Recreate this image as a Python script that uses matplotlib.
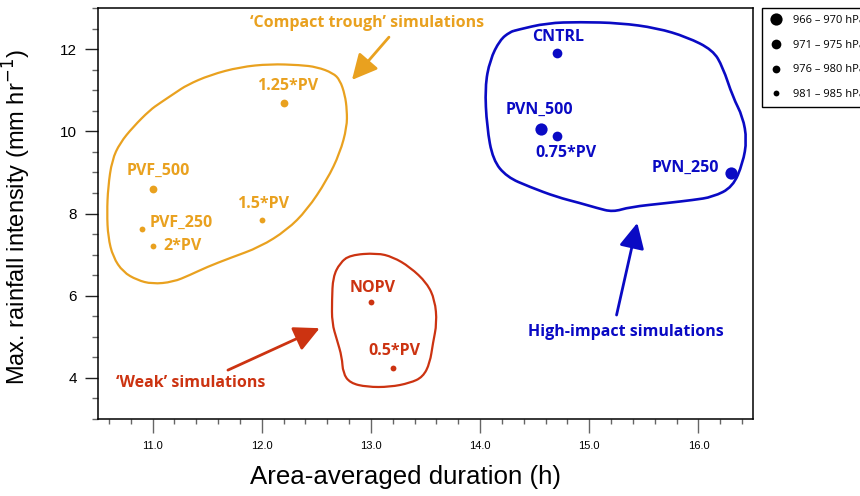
import matplotlib
matplotlib.use('Agg')
import matplotlib.pyplot as plt
from matplotlib.path import Path
from matplotlib.patches import PathPatch
from matplotlib.lines import Line2D
from matplotlib.ticker import MultipleLocator

# simulations
names = ['1.25*PV', 'PVF_500', '1.5*PV', 'PVF_250', '2*PV',
         'NOPV', '0.5*PV',
         'CNTRL', 'PVN_500', '0.75*PV', 'PVN_250']
duration = [12.2, 11.0, 12.0, 10.9, 11.0, 13.0, 13.2, 14.7, 14.56, 14.7, 16.3]
rain = [10.7, 8.6, 7.83, 7.63, 7.22, 5.85, 4.24, 11.9, 10.05, 9.88, 8.98]
group = ['trough'] * 5 + ['weak'] * 2 + ['high'] * 4
pclass = [2, 2, 3, 3, 3, 3, 3, 1, 0, 1, 0]   # index into pressure classes

p_labels = ['966 – 970 hPa', '971 – 975 hPa', '976 – 980 hPa', '981 – 985 hPa']

# hand-drawn group outlines (duration, rain)
trough_x = [12.075, 11.80, 11.526, 11.315, 11.205, 11.068, 10.976, 10.821, 10.701, 10.628, 10.592,
            10.582, 10.592, 10.637, 10.729, 10.857, 10.995, 11.187, 11.342, 11.498, 11.709, 11.984,
            12.231, 12.414, 12.597, 12.716, 12.78, 12.78, 12.762, 12.716, 12.652, 12.505, 12.35]
trough_y = [11.637, 11.564, 11.37, 11.127, 10.932, 10.689, 10.518, 10.105, 9.715, 9.302, 8.645,
            8.012, 7.428, 6.942, 6.577, 6.382, 6.285, 6.333, 6.504, 6.698, 6.917, 7.185,
            7.599, 8.085, 8.815, 9.472, 10.105, 10.518, 10.883, 11.248, 11.418, 11.564, 11.613]
weak_x = [12.808, 13.055, 13.201, 13.357, 13.513, 13.586, 13.604, 13.568, 13.54, 13.476, 13.357,
          13.174, 12.963, 12.808, 12.744, 12.734, 12.689, 12.643, 12.643, 12.652, 12.716]
weak_y = [6.99, 7.039, 6.942, 6.698, 6.309, 5.895, 5.336, 4.849, 4.363, 4.022, 3.876,
          3.779, 3.779, 3.876, 4.119, 4.509, 4.922, 5.336, 5.895, 6.455, 6.796]
high_x = [14.337, 14.612, 14.914, 15.28, 15.619, 15.894, 16.132, 16.223, 16.315, 16.407, 16.443,
          16.407, 16.315, 16.132, 15.949, 15.711, 15.372, 15.216, 15.07, 14.914, 14.703, 14.456,
          14.245, 14.117, 14.062, 14.044, 14.09, 14.181, 14.273]
high_y = [12.465, 12.635, 12.659, 12.635, 12.513, 12.294, 11.978, 11.564, 10.835, 10.348, 9.788,
          9.229, 8.645, 8.401, 8.328, 8.255, 8.158, 8.036, 8.134, 8.255, 8.401, 8.645,
          8.888, 9.302, 10.105, 11.078, 11.735, 12.221, 12.416]

colors = {'trough': '#E9A11F', 'weak': '#CC3311', 'high': '#0A0AC4'}
msizes = [8.8, 7.0, 5.6, 4.2]

# label offsets (points) and alignment
offsets = {'1.25*PV': (3, 12, 'center'), 'PVF_500': (4, 13, 'center'), '1.5*PV': (1, 12, 'center'),
           'PVF_250': (6, 4, 'left'), '2*PV': (8, 0, 'left'), 'NOPV': (1, 10, 'center'),
           '0.5*PV': (1, 12, 'center'), 'CNTRL': (1, 12, 'center'), 'PVN_500': (-1, 14, 'center'),
           '0.75*PV': (7, -12, 'center'), 'PVN_250': (-9, 4, 'right')}

lab_font = 'Open Sans'

fig = plt.figure(figsize=(8.6, 4.96), dpi=100)
ax = fig.add_axes([0.114, 0.1552, 0.7616, 0.8287])


def smooth_outline(xs, ys):
    # quadratic bezier through edge midpoints, closed
    pts = list(zip(xs, ys))
    n = len(pts)
    mid = lambda a, b: ((a[0] + b[0]) / 2, (a[1] + b[1]) / 2)
    verts = [mid(pts[-1], pts[0])]
    codes = [Path.MOVETO]
    for i in range(n):
        verts += [pts[i], mid(pts[i], pts[(i + 1) % n])]
        codes += [Path.CURVE3, Path.CURVE3]
    return Path(verts, codes)


for gx, gy, g, lw in [(trough_x, trough_y, 'trough', 1.6), (weak_x, weak_y, 'weak', 1.6),
                      (high_x, high_y, 'high', 1.9)]:
    ax.add_patch(PathPatch(smooth_outline(gx, gy), fill=False, edgecolor=colors[g], lw=lw))

for n, x, y, g, pc in zip(names, duration, rain, group, pclass):
    ax.plot(x, y, 'o', color=colors[g], ms=msizes[pc], mew=0)
    dx, dy, ha = offsets[n]
    ax.annotate(n, (x, y), xytext=(dx, dy), textcoords='offset points', ha=ha, va='center',
                color=colors[g], fontsize=11.5, fontweight='bold', family=lab_font)

# group captions and arrows
ax.text(12.96, 12.64, '‘Compact trough’ simulations', ha='center', va='center',
        color=colors['trough'], fontsize=11.5, fontweight='bold', family=lab_font)
ax.text(11.35, 3.88, '‘Weak’ simulations', ha='center', va='center',
        color=colors['weak'], fontsize=11.5, fontweight='bold', family=lab_font)
ax.text(15.335, 5.12, 'High-impact simulations', ha='center', va='center',
        color=colors['high'], fontsize=11.5, fontweight='bold', family=lab_font)

for (x0, y0), (x1, y1), g in [((13.165, 12.29), (12.826, 11.25), 'trough'),
                              ((11.69, 4.19), (12.53, 5.21), 'weak'),
                              ((15.25, 5.53), (15.44, 7.77), 'high')]:
    ax.annotate('', xy=(x1, y1), xytext=(x0, y0),
                arrowprops=dict(arrowstyle='-|>,head_length=1.1,head_width=0.55', color=colors[g],
                                lw=2, shrinkA=0, shrinkB=0, mutation_scale=14))

ax.set_xlim(10.5, 16.5)
ax.set_ylim(3, 13)
ax.xaxis.set_major_locator(MultipleLocator(1))
ax.xaxis.set_minor_locator(MultipleLocator(0.2))
ax.yaxis.set_major_locator(MultipleLocator(2))
ax.yaxis.set_minor_locator(MultipleLocator(0.5))
ax.xaxis.set_major_formatter(matplotlib.ticker.FormatStrFormatter('%.1f'))
ax.tick_params(axis='x', which='major', length=10, width=1, color='#666666', labelsize=8, pad=6)
ax.tick_params(axis='x', which='minor', length=3.6, width=1, color='#666666')
ax.tick_params(axis='y', which='major', length=9.4, width=1, color='#222222', labelsize=11, pad=6)
ax.tick_params(axis='y', which='minor', length=4.3, width=1, color='#666666')
for lab in ax.get_xticklabels() + ax.get_yticklabels():
    lab.set_family('Liberation Sans')
for s in ax.spines.values():
    s.set_linewidth(1.1)

ax.set_xlabel('Area-averaged duration (h)', fontsize=18.6, family='Liberation Sans')
ax.xaxis.set_label_coords(0.469, -0.113)
ax.set_ylabel('Max. rainfall intensity (mm hr$^{-1}$)', fontsize=17, family='Liberation Sans')
ax.yaxis.set_label_coords(-0.1, 0.49)

handles = [Line2D([], [], ls='none', marker='o', color='black', ms=msizes[i], mew=0)
           for i in range(4)]
leg = ax.legend(handles, p_labels, loc='upper left', bbox_to_anchor=(1.014, 1.0),
                borderaxespad=0, fancybox=False, edgecolor='black', framealpha=1,
                prop={'family': 'Open Sans', 'size': 8}, labelspacing=1.25,
                handletextpad=1.0, handlelength=1.2, borderpad=0.6)
leg.get_frame().set_linewidth(1)

plt.savefig('out.png', dpi=100)
